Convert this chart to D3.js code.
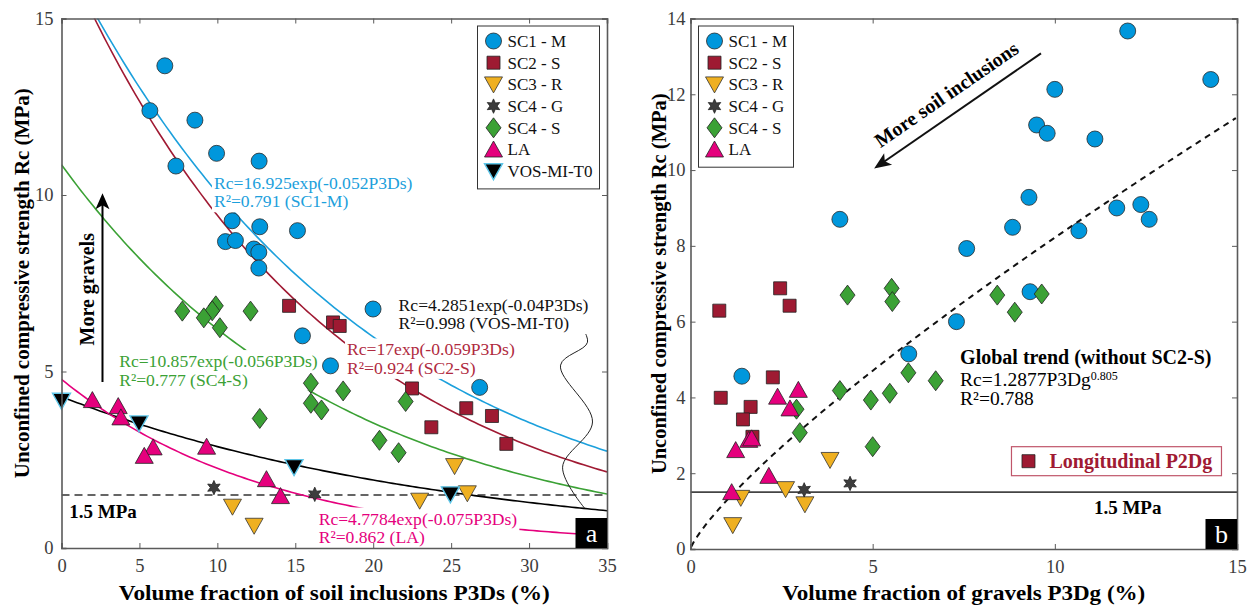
<!DOCTYPE html>
<html><head><meta charset="utf-8">
<script src="https://cdn.jsdelivr.net/npm/d3@7"></script>
<style>
body{margin:0;background:#fff}
svg{display:block}
text{font-family:"Liberation Serif","Times New Roman",serif}
</style>
</head><body><svg id="c" width="1252" height="605"></svg>
<script>
// ---------------- DATA ----------------
const seriesNamesA = ["SC1 - M","SC2 - S","SC3 - R","SC4 - G","SC4 - S","LA","VOS-MI-T0"];
const seriesNamesB = ["SC1 - M","SC2 - S","SC3 - R","SC4 - G","SC4 - S","LA"];
const xTicksA = [0,5,10,15,20,25,30,35];
const yTicksA = [0,5,10,15];
const xTicksB = [0,5,10,15];
const yTicksB = [0,2,4,6,8,10,12,14];

// Panel a : P3Ds (%) vs Rc (MPa)
const sc1_P3Ds = [6.63,5.67,8.56,9.95,12.68,7.34,10.95,12.72,15.14,10.52,11.16,12.34,12.66,12.66,15.46,17.26,19.99,26.83];
const sc1_RcA  = [13.66,12.39,12.12,11.18,10.96,10.82,9.27,9.10,8.99,8.68,8.71,8.47,8.38,7.93,6.01,5.16,6.77,4.55];
const sc2_P3Ds = [14.6,17.42,17.85,22.49,25.97,27.62,23.73,28.54];
const sc2_RcA  = [6.86,6.39,6.29,4.52,3.96,3.74,3.42,2.95];
const sc3_P3Ds = [25.22,26.04,22.98,10.97,12.36];
const sc3_RcA  = [2.32,1.55,1.34,1.17,0.63];
const sc4g_P3Ds = [9.78,16.25];
const sc4g_RcA  = [1.71,1.52];
const sc4s_P3Ds = [7.75,9.9,9.67,9.13,10.16,12.13,16.0,18.07,16.0,16.68,12.72,20.4,22.08,21.63];
const sc4s_RcA  = [6.71,6.86,6.72,6.52,6.24,6.71,4.67,4.45,4.1,3.91,3.67,3.05,4.15,2.7];
const la_P3Ds = [1.98,3.64,3.81,5.88,5.31,9.31,13.15,14.05];
const la_RcA  = [4.19,4.02,3.7,2.85,2.61,2.87,1.95,1.47];
const vos_P3Ds = [0,4.97,14.92,24.95];
const vos_RcA  = [4.17,3.53,2.29,1.52];

// exponential fits Rc = a*exp(b*P3Ds)
const fitA = [
  {a:16.925, b:-0.052, color:"#1ca0dc", eq:"Rc=16.925exp(-0.052P3Ds)", r2:"R²=0.791 (SC1-M)", lx:9.78, ly:10.35},
  {a:17,     b:-0.059, color:"#a01a33", eq:"Rc=17exp(-0.059P3Ds)",     r2:"R²=0.924 (SC2-S)", lx:18.32, ly:5.63},
  {a:10.857, b:-0.056, color:"#3ba135", eq:"Rc=10.857exp(-0.056P3Ds)", r2:"R²=0.777 (SC4-S)", lx:3.7, ly:5.3},
  {a:4.2851, b:-0.04,  color:"#000000", eq:"Rc=4.2851exp(-0.04P3Ds)",  r2:"R²=0.998 (VOS-MI-T0)", lx:21.63, ly:6.9},
  {a:4.7784, b:-0.075, color:"#e5007d", eq:"Rc=4.7784exp(-0.075P3Ds)", r2:"R²=0.862 (LA)", lx:16.5, ly:0.84}
];
const fitTextColor = {"#1ca0dc":"#1ca0dc","#a01a33":"#b02a40","#3ba135":"#3ba135","#000000":"#111","#e5007d":"#e5007d"};

// Panel b : P3Dg (%) vs Rc (MPa)
const sc1_P3Dg = [4.1,7.58,12.0,14.28,10.0,9.5,9.79,11.1,9.29,8.84,11.7,12.36,12.59,10.66,9.32,7.3,5.99,1.41];
const sc1_RcB  = [8.7,7.93,13.67,12.39,12.13,11.19,10.97,10.82,9.28,8.49,9.0,9.09,8.7,8.4,6.79,6.0,5.15,4.56];
const sc2_P3Dg = [2.46,2.72,0.79,2.26,0.83,1.65,1.44,1.7];
const sc2_RcB  = [6.88,6.42,6.29,4.53,3.99,3.75,3.42,2.96];
const sc3_P3Dg = [3.83,2.61,1.38,3.14,1.16];
const sc3_RcB  = [2.35,1.58,1.35,1.18,0.63];
const sc4g_P3Dg = [3.12,4.38];
const sc4g_RcB  = [1.56,1.73];
const sc4s_P3Dg = [4.31,5.52,5.54,5.98,6.73,4.1,4.95,5.47,2.91,3.0,5.0,8.42,9.64,8.9];
const sc4s_RcB  = [6.7,6.88,6.53,4.65,4.44,4.18,3.93,4.11,3.69,3.07,2.7,6.7,6.73,6.25];
const la_P3Dg = [2.96,2.39,2.73,1.6,1.68,1.24,2.15,1.13];
const la_RcB  = [4.2,4.02,3.71,2.88,2.92,2.61,1.93,1.5];
// power fit Rc = 1.2877*P3Dg^0.805
const globalFit = {a:1.2877, b:0.805};
const thresholdRc = 1.5;

// ---------------- STYLES ----------------
const styles = {
  "SC1 - M":  {shape:"circle",  fill:"#0097dc", stroke:"#2a2a2a", sw:0.8},
  "SC2 - S":  {shape:"square",  fill:"#9e1a32", stroke:"#222",    sw:0.8},
  "SC3 - R":  {shape:"tridown", fill:"#efb021", stroke:"#333",    sw:0.8},
  "SC4 - G":  {shape:"star",    fill:"#3d3d3d", stroke:"#222",    sw:0.8},
  "SC4 - S":  {shape:"diamond", fill:"#3ba135", stroke:"#222",    sw:0.8},
  "LA":       {shape:"triup",   fill:"#e5007d", stroke:"#222",    sw:0.8},
  "VOS-MI-T0":{shape:"tridown", fill:"#000",    stroke:"#5fc6e8", sw:1.4}
};
function shapePath(shape){
  switch(shape){
    case "circle": return d3.symbol(d3.symbolCircle, Math.PI*8*8)();
    case "square": return "M-6.5,-6.5H6.5V6.5H-6.5Z";
    case "triup": return "M0,-8.5L9,7.5L-9,7.5Z";
    case "tridown": return "M0,8.5L9,-7.5L-9,-7.5Z";
    case "diamond": return "M0,-10L7.5,0L0,10L-7.5,0Z";
    case "star": {
      const p=[]; for(let i=0;i<12;i++){const r=i%2?3.6:7.2; const a=Math.PI/6*i - Math.PI/2; p.push([r*Math.cos(a), r*Math.sin(a)]);}
      return "M"+p.map(q=>q[0].toFixed(2)+","+q[1].toFixed(2)).join("L")+"Z";
    }
  }
}

const svg = d3.select("#c");
const font = '"Liberation Serif","Times New Roman",serif';

// ---------------- SCALES ----------------
const xa = d3.scaleLinear([0,35],[61.5,607]);
const ya = d3.scaleLinear([0,15],[548,18.5]);
const xb = d3.scaleLinear([0,15],[690.5,1237]);
const yb = d3.scaleLinear([0,14],[549,18.5]);

function drawAxes(g, x, y, xt, yt, ypad){
  const [x0,x1]=x.range(), [y0,y1]=y.range();
  const axCol="#5a5a5a";
  const bx = g.append("g").attr("transform",`translate(0,${y0})`).call(d3.axisBottom(x).tickValues(xt).tickSize(-5).tickPadding(11).tickFormat(d3.format("d")));
  const lx = g.append("g").attr("transform",`translate(${x0},0)`).call(d3.axisLeft(y).tickValues(yt).tickSize(-5).tickPadding(ypad).tickFormat(d3.format("d")));
  const tx = g.append("g").attr("transform",`translate(0,${y1})`).call(d3.axisTop(x).tickValues(xt).tickSize(-5).tickFormat(""));
  const rx = g.append("g").attr("transform",`translate(${x1},0)`).call(d3.axisRight(y).tickValues(yt).tickSize(-5).tickFormat(""));
  [bx,lx,tx,rx].forEach(a=>{
    a.select(".domain").attr("stroke",axCol).attr("stroke-width",1.6);
    a.selectAll(".tick line").attr("stroke",axCol).attr("stroke-width",1);
    a.selectAll(".tick text").attr("fill","#3c3c3c").style("font-family",font).style("font-size","18.5px");
  });
}

function drawPoints(g, x, y, name, xs, ys){
  const st = styles[name];
  const pts = xs.map((v,i)=>[v, ys[i]]);
  g.append("g").selectAll("path").data(pts).join("path")
    .attr("d", shapePath(st.shape))
    .attr("transform", d=>`translate(${x(d[0])},${y(d[1])})`)
    .attr("fill", st.fill).attr("stroke", st.stroke).attr("stroke-width", st.sw);
}

function labelWithBg(g, px, py, lines, color, size, weight){
  const grp = g.append("g");
  const bg = grp.append("rect").attr("fill","#fff");
  const t = grp.append("text").attr("fill",color).style("font-size",size+"px").style("font-weight",weight||"normal");
  lines.forEach((l,i)=>{
    t.append("tspan").attr("x",px).attr("y",py+i*18.5).attr("dy","0.35em").text(l);
  });
  const bb = t.node().getBBox();
  bg.attr("x",bb.x-2).attr("y",bb.y-1).attr("width",bb.width+4).attr("height",bb.height+2);
  return grp;
}

// ================= PANEL A =================
const ga = svg.append("g");
svg.append("clipPath").attr("id","clipA").append("rect")
  .attr("x",xa.range()[0]).attr("y",ya.range()[1]).attr("width",xa.range()[1]-xa.range()[0]).attr("height",ya.range()[0]-ya.range()[1]);
const plotA = ga.append("g").attr("clip-path","url(#clipA)");

// threshold dashed line
plotA.append("line").attr("x1",xa(0)).attr("x2",xa(35)).attr("y1",ya(thresholdRc)).attr("y2",ya(thresholdRc))
  .attr("stroke","#333").attr("stroke-width",1.5).attr("stroke-dasharray","8,5");

// fit curves
const xsFit = d3.range(0, 35.01, 0.25);
fitA.forEach(f=>{
  plotA.append("path").datum(xsFit)
    .attr("d", d3.line().x(d=>xa(d)).y(d=>ya(f.a*Math.exp(f.b*d))))
    .attr("fill","none").attr("stroke",f.color).attr("stroke-width",1.6);
});
// wavy connector annotation (data units)
const wave = [[33.05,6.48],[33.75,5.83],[32.02,5.18],[34.07,3.57],[32.15,2.29],[33.56,1.13]];
plotA.append("path").datum(wave).attr("d", d3.line().x(d=>xa(d[0])).y(d=>ya(d[1])).curve(d3.curveCatmullRom.alpha(0.5)))
  .attr("fill","none").attr("stroke","#222").attr("stroke-width",1);

// fit labels
fitA.forEach(f=>{
  labelWithBg(plotA, xa(f.lx), ya(f.ly), [f.eq, f.r2], fitTextColor[f.color], 17.6);
});

// "More gravels" arrow
plotA.append("line").attr("x1",xa(2.63)).attr("x2",xa(2.63)).attr("y1",ya(4.7)).attr("y2",ya(9.75))
  .attr("stroke","#000").attr("stroke-width",2);
plotA.append("path").attr("d",`M${xa(2.63)},${ya(10.05)}L${xa(2.63)+7},${ya(10.05)+16}L${xa(2.63)},${ya(10.05)+12}L${xa(2.63)-7},${ya(10.05)+16}Z`).attr("fill","#000");
plotA.append("text").attr("transform",`translate(${xa(1.63)},${ya(7.33)}) rotate(-90)`).attr("text-anchor","middle").attr("dy","0.35em")
  .style("font-size","20px").style("font-weight","bold").text("More gravels");

// 1.5 MPa label
plotA.append("text").attr("x",xa(0.5)).attr("y",ya(1.05)).attr("dy","0.35em").style("font-size","19px").style("font-weight","bold").text("1.5 MPa");

// points
drawPoints(plotA, xa, ya, "SC1 - M", sc1_P3Ds, sc1_RcA);
drawPoints(plotA, xa, ya, "SC2 - S", sc2_P3Ds, sc2_RcA);
drawPoints(plotA, xa, ya, "SC4 - S", sc4s_P3Ds, sc4s_RcA);
drawPoints(plotA, xa, ya, "SC3 - R", sc3_P3Ds, sc3_RcA);
drawPoints(plotA, xa, ya, "SC4 - G", sc4g_P3Ds, sc4g_RcA);
drawPoints(plotA, xa, ya, "LA", la_P3Ds, la_RcA);
drawPoints(ga, xa, ya, "VOS-MI-T0", vos_P3Ds, vos_RcA);

drawAxes(ga, xa, ya, xTicksA, yTicksA, 8);

// legend
function legend(g, x0, y0, w, names){
  const lg = g.append("g").attr("transform",`translate(${x0},${y0})`);
  lg.append("rect").attr("width",w).attr("height",names.length*21.7+11).attr("fill","#fff").attr("stroke","#333").attr("stroke-width",1);
  names.forEach((n,i)=>{
    const st=styles[n]; const cy=15+i*21.7;
    lg.append("path").attr("d",shapePath(st.shape)).attr("transform",`translate(16,${cy})`)
      .attr("fill",st.fill).attr("stroke",st.stroke).attr("stroke-width",st.sw);
    lg.append("text").attr("x",30).attr("y",cy).attr("dy","0.35em").style("font-size","17px").attr("fill","#111").text(n);
  });
}
legend(ga, 477.5, 26, 122, seriesNamesA);

// panel letter
function letter(g, x1, y0, ch){
  g.append("rect").attr("x",x1-31.5).attr("y",y0-30).attr("width",31.5).attr("height",30).attr("fill","#000");
  g.append("text").attr("x",x1-15.5).attr("y",y0-15).attr("dy","0.35em").attr("text-anchor","middle").attr("fill","#fff").style("font-size","26px").text(ch);
}
letter(ga, xa.range()[1], ya.range()[0], "a");

// axis titles A
svg.append("text").attr("x",(xa.range()[0]+xa.range()[1])/2).attr("y",592).attr("dy","0.35em").attr("text-anchor","middle")
  .attr("textLength",431).attr("lengthAdjust","spacingAndGlyphs")
  .style("font-size","21.5px").style("font-weight","bold").text("Volume fraction of soil inclusions P3Ds (%)");
svg.append("text").attr("transform",`translate(22,${(ya.range()[0]+ya.range()[1])/2}) rotate(-90)`).attr("dy","0.35em").attr("text-anchor","middle")
  .style("font-size","21px").style("font-weight","bold").text("Unconfined compressive strength Rc (MPa)");

// ================= PANEL B =================
const gb = svg.append("g");
svg.append("clipPath").attr("id","clipB").append("rect")
  .attr("x",xb.range()[0]).attr("y",yb.range()[1]).attr("width",xb.range()[1]-xb.range()[0]).attr("height",yb.range()[0]-yb.range()[1]);
const plotB = gb.append("g").attr("clip-path","url(#clipB)");

plotB.append("line").attr("x1",xb(0)).attr("x2",xb(15)).attr("y1",yb(thresholdRc)).attr("y2",yb(thresholdRc))
  .attr("stroke","#444").attr("stroke-width",1.8);
const xsPow = d3.range(0.02, 15.01, 0.05);
plotB.append("path").datum(xsPow).attr("d", d3.line().x(d=>xb(d)).y(d=>yb(globalFit.a*Math.pow(d,globalFit.b))))
  .attr("fill","none").attr("stroke","#111").attr("stroke-width",2).attr("stroke-dasharray","6,5");

// arrow "More soil inclusions"
const aS=[9.62,13.08], aE=[5.04,10.04];
const ax1=xb(aS[0]), ay1=yb(aS[1]), ax2=xb(aE[0]), ay2=yb(aE[1]);
const ang=Math.atan2(ay2-ay1, ax2-ax1);
plotB.append("line").attr("x1",ax1).attr("y1",ay1).attr("x2",ax2-12*Math.cos(ang)).attr("y2",ay2-12*Math.sin(ang)).attr("stroke","#111").attr("stroke-width",2);
plotB.append("path").attr("transform",`translate(${ax2},${ay2}) rotate(${ang*180/Math.PI})`).attr("d","M0,0L-17,-7L-13,0L-17,7Z").attr("fill","#111");
plotB.append("text").attr("transform",`translate(${xb(7.02)},${yb(12.0)}) rotate(${ang*180/Math.PI+180})`).attr("text-anchor","middle").attr("dy","0.35em")
  .style("font-size","20px").style("font-weight","bold").text("More soil inclusions");

// global trend text
plotB.append("text").attr("x",xb(7.4)).attr("y",yb(5.07)).attr("dy","0.35em").style("font-size","20px").style("font-weight","bold").text("Global trend (without SC2-S)");
const gt2 = plotB.append("text").attr("x",xb(7.4)).attr("y",yb(5.07)+22).attr("dy","0.35em").style("font-size","19.5px");
gt2.append("tspan").text("Rc=1.2877P3Dg");
gt2.append("tspan").attr("dy","-0.45em").style("font-size","12px").text("0.805");
plotB.append("text").attr("x",xb(7.4)).attr("y",yb(5.07)+41).attr("dy","0.35em").style("font-size","19.5px").text("R²=0.788");

// 1.5 MPa
plotB.append("text").attr("x",xb(12.0)).attr("y",yb(1.1)).attr("dy","0.35em").attr("text-anchor","middle").style("font-size","19px").style("font-weight","bold").text("1.5 MPa");

// Longitudinal P2Dg box
const lb = plotB.append("g").attr("transform",`translate(${xb(8.81)},${yb(2.70)})`);
lb.append("rect").attr("width",210).attr("height",29).attr("fill","#fff").attr("stroke","#c0566a").attr("stroke-width",1.2);
lb.append("path").attr("d",shapePath("square")).attr("transform","translate(17,14.5)").attr("fill","#9e1a32").attr("stroke","#222").attr("stroke-width",0.8);
lb.append("text").attr("x",38).attr("y",14.5).attr("dy","0.35em").attr("fill","#a01a33").style("font-size","20px").style("font-weight","bold").text("Longitudinal P2Dg");

// points
drawPoints(plotB, xb, yb, "SC1 - M", sc1_P3Dg, sc1_RcB);
drawPoints(plotB, xb, yb, "SC2 - S", sc2_P3Dg, sc2_RcB);
drawPoints(plotB, xb, yb, "SC4 - S", sc4s_P3Dg, sc4s_RcB);
drawPoints(plotB, xb, yb, "SC3 - R", sc3_P3Dg, sc3_RcB);
drawPoints(plotB, xb, yb, "SC4 - G", sc4g_P3Dg, sc4g_RcB);
drawPoints(plotB, xb, yb, "LA", la_P3Dg, la_RcB);

drawAxes(gb, xb, yb, xTicksB, yTicksB, 5);
legend(gb, 698.5, 26, 95, seriesNamesB);
letter(gb, xb.range()[1], yb.range()[0], "b");

svg.append("text").attr("x",(xb.range()[0]+xb.range()[1])/2).attr("y",592).attr("dy","0.35em").attr("text-anchor","middle")
  .attr("textLength",363).attr("lengthAdjust","spacingAndGlyphs")
  .style("font-size","21.5px").style("font-weight","bold").text("Volume fraction of gravels P3Dg (%)");
svg.append("text").attr("transform",`translate(659,${(yb.range()[0]+yb.range()[1])/2}) rotate(-90)`).attr("dy","0.35em").attr("text-anchor","middle")
  .style("font-size","20.5px").style("font-weight","bold").text("Unconfined compressive strength Rc (MPa)");
</script>
</body></html>
